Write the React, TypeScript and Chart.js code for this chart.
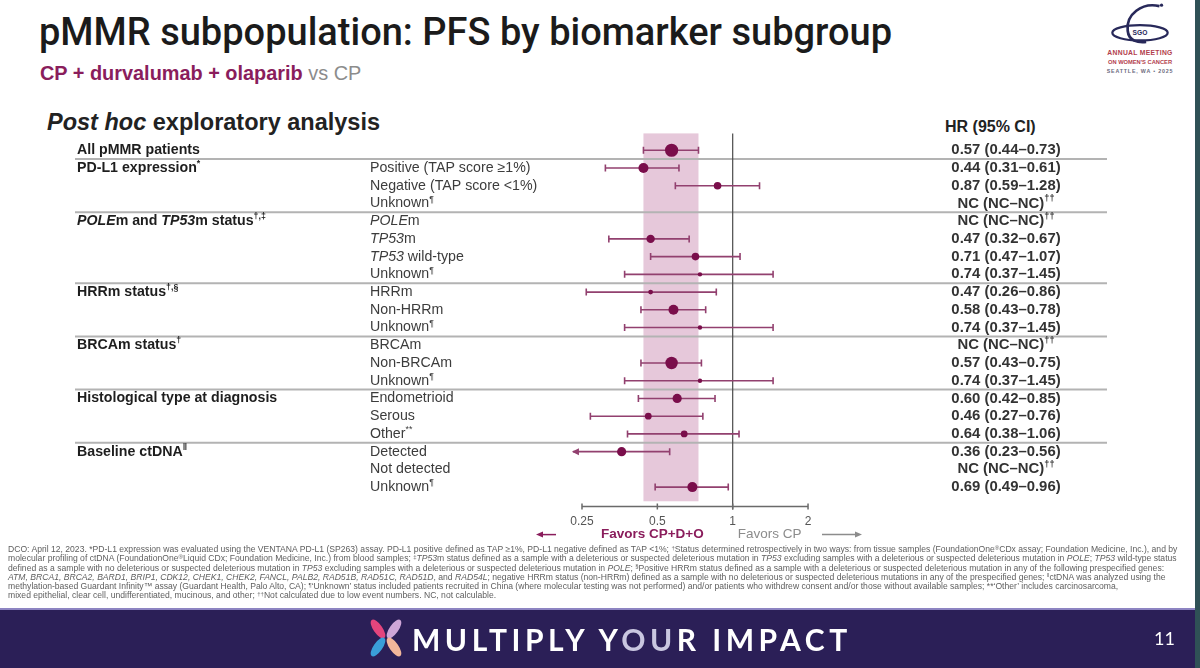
import React, { useEffect, useRef } from 'react';
import { Chart, registerables } from 'chart.js';

Chart.register(...registerables);

type Seg = { t: string; i?: boolean; s?: boolean };

// ---- data -------------------------------------------------------------
const groupLabels: (Seg[] | null)[] = [
  [{ t: 'All pMMR patients' }],
  [{ t: 'PD-L1 expression' }, { t: '*', s: true }],
  null,
  null,
  [{ t: 'POLE', i: true }, { t: 'm and ' }, { t: 'TP53', i: true }, { t: 'm status' }, { t: '†,‡', s: true }],
  null,
  null,
  null,
  [{ t: 'HRRm status' }, { t: '†,§', s: true }],
  null,
  null,
  [{ t: 'BRCAm status' }, { t: '†', s: true }],
  null,
  null,
  [{ t: 'Histological type at diagnosis' }],
  null,
  null,
  [{ t: 'Baseline ctDNA' }, { t: '‖', s: true }],
  null,
  null,
];

const subgroupLabels: Seg[][] = [
  [],
  [{ t: 'Positive (TAP score ≥1%)' }],
  [{ t: 'Negative (TAP score <1%)' }],
  [{ t: 'Unknown' }, { t: '¶', s: true }],
  [{ t: 'POLE', i: true }, { t: 'm' }],
  [{ t: 'TP53', i: true }, { t: 'm' }],
  [{ t: 'TP53', i: true }, { t: ' wild-type' }],
  [{ t: 'Unknown' }, { t: '¶', s: true }],
  [{ t: 'HRRm' }],
  [{ t: 'Non-HRRm' }],
  [{ t: 'Unknown' }, { t: '¶', s: true }],
  [{ t: 'BRCAm' }],
  [{ t: 'Non-BRCAm' }],
  [{ t: 'Unknown' }, { t: '¶', s: true }],
  [{ t: 'Endometrioid' }],
  [{ t: 'Serous' }],
  [{ t: 'Other' }, { t: '**', s: true }],
  [{ t: 'Detected' }],
  [{ t: 'Not detected' }],
  [{ t: 'Unknown' }, { t: '¶', s: true }],
];

const hazardRatio: (number | null)[] = [
  0.57, 0.44, 0.87, null, null, 0.47, 0.71, 0.74, 0.47, 0.58,
  0.74, null, 0.57, 0.74, 0.6, 0.46, 0.64, 0.36, null, 0.69,
];
const ciLower: (number | null)[] = [
  0.44, 0.31, 0.59, null, null, 0.32, 0.47, 0.37, 0.26, 0.43,
  0.37, null, 0.43, 0.37, 0.42, 0.27, 0.38, 0.23, null, 0.49,
];
const ciUpper: (number | null)[] = [
  0.73, 0.61, 1.28, null, null, 0.67, 1.07, 1.45, 0.86, 0.78,
  1.45, null, 0.75, 1.45, 0.85, 0.76, 1.06, 0.56, null, 0.96,
];

// rows after which a divider is drawn
const sectionEnds = [0, 3, 7, 10, 13, 16];

const tickValues = [0.25, 0.5, 1, 2];
const tickLabels = ['0.25', '0.5', '1', '2'];

// ---- styling ------------------------------------------------------------
const markerRadius = [6.6, 5, 3.8, 0, 0, 4.2, 3.8, 2.2, 2.4, 5, 2.2, 0, 6.2, 2.2, 4.6, 3.4, 3.4, 4.6, 0, 5];
const PLUM = '#7a0e4b';
const WHISKER = '#92406f';
const BAND = '#e6c8da';
const FONT = '"Liberation Sans", Arial, sans-serif';
const LABEL_SIZE = 14.2;

const fmt = (v: number) => v.toFixed(2);

function hrText(k: number): Seg[] {
  const h = hazardRatio[k];
  const lo = ciLower[k];
  const hi = ciUpper[k];
  if (h == null || lo == null || hi == null) return [{ t: 'NC (NC–NC)' }, { t: '††', s: true }];
  return [{ t: `${fmt(h)} (${fmt(lo)}–${fmt(hi)})` }];
}

function drawRich(
  ctx: CanvasRenderingContext2D,
  segs: Seg[],
  x: number,
  y: number,
  size: number,
  weight: number,
  color: string,
  align: 'left' | 'center'
) {
  const fontFor = (s: Seg) => `${s.i ? 'italic ' : ''}${weight} ${s.s ? size * 0.62 : size}px ${FONT}`;
  const widths = segs.map((s) => {
    ctx.font = fontFor(s);
    return ctx.measureText(s.t).width;
  });
  const total = widths.reduce((a, b) => a + b, 0);
  let cx = align === 'center' ? x - total / 2 : x;
  ctx.fillStyle = color;
  ctx.textAlign = 'left';
  ctx.textBaseline = 'middle';
  segs.forEach((s, k) => {
    ctx.font = fontFor(s);
    ctx.fillText(s.t, cx, s.s ? y - size * 0.3 : y);
    cx += widths[k];
  });
}

const forestPlugin = {
  id: 'forestDecor',
  beforeDatasetsDraw(chart: any) {
    const { ctx, chartArea } = chart;
    const xs = chart.scales.x;
    const ys = chart.scales.y;
    ctx.save();

    // shaded band: overall CI
    const bx0 = xs.getPixelForValue(ciLower[0] as number);
    const bx1 = xs.getPixelForValue(ciUpper[0] as number);
    const bandBottom = ys.getPixelForValue(19.8);
    ctx.fillStyle = BAND;
    ctx.fillRect(bx0, chartArea.top, bx1 - bx0, bandBottom - chartArea.top);

    // section dividers
    ctx.strokeStyle = '#b3b3b3';
    ctx.lineWidth = 2;
    sectionEnds.forEach((r) => {
      const y = ys.getPixelForValue(r + 0.5);
      ctx.beginPath();
      ctx.moveTo(75, y);
      ctx.lineTo(1107, y);
      ctx.stroke();
    });

    // line of no effect
    const x1 = xs.getPixelForValue(1);
    ctx.strokeStyle = '#4a4a4a';
    ctx.lineWidth = 1.2;
    ctx.beginPath();
    ctx.moveTo(x1, chartArea.top);
    ctx.lineTo(x1, chartArea.bottom + 3);
    ctx.stroke();

    // axis line with ticks
    const ax0 = xs.getPixelForValue(tickValues[0]);
    const ax1 = xs.getPixelForValue(tickValues[tickValues.length - 1]);
    const ay = chartArea.bottom;
    ctx.strokeStyle = '#6a6a6a';
    ctx.lineWidth = 1.5;
    ctx.beginPath();
    ctx.moveTo(ax0, ay);
    ctx.lineTo(ax1, ay);
    tickValues.forEach((v) => {
      const tx = xs.getPixelForValue(v);
      ctx.moveTo(tx, ay - 3);
      ctx.lineTo(tx, ay + 3);
    });
    ctx.stroke();

    // confidence intervals
    ctx.strokeStyle = WHISKER;
    ctx.fillStyle = WHISKER;
    ctx.lineWidth = 1.6;
    hazardRatio.forEach((h, k) => {
      const lo = ciLower[k];
      const hi = ciUpper[k];
      if (h == null || lo == null || hi == null) return;
      const y = ys.getPixelForValue(k);
      const xl = xs.getPixelForValue(lo);
      const xr = xs.getPixelForValue(hi);
      ctx.beginPath();
      ctx.moveTo(xl, y);
      ctx.lineTo(xr, y);
      ctx.moveTo(xr, y - 3.5);
      ctx.lineTo(xr, y + 3.5);
      if (lo >= tickValues[0]) {
        ctx.moveTo(xl, y - 3.5);
        ctx.lineTo(xl, y + 3.5);
      }
      ctx.stroke();
      if (lo < tickValues[0]) {
        ctx.beginPath();
        ctx.moveTo(xl - 1, y);
        ctx.lineTo(xl + 6, y - 3.5);
        ctx.lineTo(xl + 6, y + 3.5);
        ctx.closePath();
        ctx.fill();
      }
    });
    ctx.restore();
  },
  afterDatasetsDraw(chart: any) {
    const { ctx, chartArea } = chart;
    const xs = chart.scales.x;
    const ys = chart.scales.y;
    ctx.save();
    subgroupLabels.forEach((segs, k) => {
      const y = ys.getPixelForValue(k);
      const g = groupLabels[k];
      if (g) drawRich(ctx, g, 77, y, LABEL_SIZE, 700, '#1e1e1e', 'left');
      if (segs.length) drawRich(ctx, segs, 370, y, LABEL_SIZE, 400, '#3c3c3c', 'left');
      drawRich(ctx, hrText(k), 1006, y, 14.9, 700, '#333333', 'center');
    });

    // direction labels below the axis
    const x1 = xs.getPixelForValue(1);
    const fy = chartArea.bottom + 28;
    ctx.textBaseline = 'middle';
    ctx.font = `700 13.5px ${FONT}`;
    ctx.fillStyle = '#8a1d5c';
    ctx.textAlign = 'right';
    ctx.fillText('Favors CP+D+O', x1 - 29, fy);
    ctx.font = `400 13.5px ${FONT}`;
    ctx.fillStyle = '#8c8c8c';
    ctx.textAlign = 'left';
    ctx.fillText('Favors CP', x1 + 5, fy);

    // arrows
    ctx.lineWidth = 1.5;
    ctx.strokeStyle = '#8a1d5c';
    ctx.fillStyle = '#8a1d5c';
    ctx.beginPath();
    ctx.moveTo(541, fy);
    ctx.lineTo(556, fy);
    ctx.stroke();
    ctx.beginPath();
    ctx.moveTo(536, fy);
    ctx.lineTo(543, fy - 3);
    ctx.lineTo(543, fy + 3);
    ctx.closePath();
    ctx.fill();

    ctx.strokeStyle = '#8c8c8c';
    ctx.fillStyle = '#8c8c8c';
    ctx.beginPath();
    ctx.moveTo(822, fy);
    ctx.lineTo(856, fy);
    ctx.stroke();
    ctx.beginPath();
    ctx.moveTo(862, fy);
    ctx.lineTo(855, fy - 3);
    ctx.lineTo(855, fy + 3);
    ctx.closePath();
    ctx.fill();
    ctx.restore();
  },
};

function ForestChart() {
  const ref = useRef<HTMLCanvasElement | null>(null);
  useEffect(() => {
    if (!ref.current) return;
    const pts: { x: number; y: number }[] = [];
    const radii: number[] = [];
    hazardRatio.forEach((h, k) => {
      if (h == null) return;
      pts.push({ x: h, y: k });
      radii.push(markerRadius[k]);
    });
    const chart = new Chart(ref.current, {
      type: 'scatter',
      data: {
        datasets: [
          {
            data: pts,
            pointRadius: radii,
            pointBackgroundColor: PLUM,
            pointBorderColor: PLUM,
            pointBorderWidth: 0,
          },
        ],
      },
      options: {
        responsive: false,
        animation: false,
        events: [],
        layout: { padding: { left: 568.1, right: 381.6, top: 133.4, bottom: 131 } },
        plugins: { legend: { display: false }, tooltip: { enabled: false } },
        scales: {
          x: {
            type: 'logarithmic',
            min: 0.22,
            max: 2.2,
            grid: { display: false, drawTicks: false },
            border: { display: false },
            afterBuildTicks: (s: any) => {
              s.ticks = tickValues.map((v) => ({ value: v }));
            },
            ticks: {
              autoSkip: false,
              maxRotation: 0,
              padding: 8,
              color: '#555555',
              font: { family: FONT, size: 12 },
              callback: (_v: any, i: number) => tickLabels[i],
            },
          },
          y: { type: 'linear', min: -0.95, max: 20.1, reverse: true, display: false },
        },
      },
      plugins: [forestPlugin],
    } as any);
    return () => chart.destroy();
  }, []);
  return <canvas ref={ref} width={1200} height={668} style={{ position: 'absolute', left: 0, top: 0 }} />;
}

function SgoLogo() {
  return (
    <svg width={104} height={82} viewBox="0 0 100 80" style={{ position: 'absolute', left: 1088, top: 0 }}>
      <path d="M69 6 C 52 2, 36 14, 38 30 C 39 40, 48 42, 56 41" fill="none" stroke="#28295a" strokeWidth={2.6} />
      <ellipse cx={50} cy={32} rx={27} ry={7.5} fill="none" stroke="#28295a" strokeWidth={2.2} />
      <circle cx={71} cy={5} r={1.6} fill="#28295a" />
      <text x={50} y={34.5} fontSize={6.5} textAnchor="middle" fill="#28295a" fontFamily={FONT} fontWeight={700}>SGO</text>
      <text x={50} y={54} fontSize={6.6} textAnchor="middle" fill="#b2404c" fontFamily={FONT} fontWeight={700} letterSpacing={0.3}>ANNUAL MEETING</text>
      <text x={50} y={62} fontSize={5.6} textAnchor="middle" fill="#b2404c" fontFamily={FONT} fontWeight={700}>ON WOMEN'S CANCER</text>
      <text x={50} y={71} fontSize={5.2} textAnchor="middle" fill="#6b6b7e" fontFamily={FONT} fontWeight={700} letterSpacing={0.8}>SEATTLE, WA • 2025</text>
    </svg>
  );
}

function PetalMark() {
  return (
    <svg width={40} height={40} viewBox="0 0 40 40" style={{ position: 'absolute', left: 366, top: 618 }}>
      <ellipse cx={12} cy={11} rx={4.5} ry={11} transform="rotate(-35 12 11)" fill="#e4457d" />
      <ellipse cx={28} cy={11} rx={4.5} ry={11} transform="rotate(35 28 11)" fill="#cfa6d8" />
      <ellipse cx={12} cy={29} rx={4.5} ry={11} transform="rotate(35 12 29)" fill="#3a9ed8" />
      <ellipse cx={28} cy={29} rx={4.5} ry={11} transform="rotate(-35 28 29)" fill="#f2b79b" />
    </svg>
  );
}

function Sup({ children }: { children: React.ReactNode }) {
  return (
    <span style={{ fontSize: '0.7em', position: 'relative', top: '-0.4em', lineHeight: 0 }}>{children}</span>
  );
}

const noteStyle: React.CSSProperties = {
  position: 'absolute',
  left: 8,
  top: 545,
  width: 1185,
  fontFamily: FONT,
  fontSize: 8.6,
  lineHeight: '9.3px',
  color: '#5e5e5e',
  whiteSpace: 'nowrap',
};

export default function App() {
  return (
    <div
      style={{
        position: 'absolute',
        left: 0,
        top: 0,
        width: 1200,
        height: 668,
        background: '#ffffff',
        overflow: 'hidden',
        fontFamily: FONT,
      }}
    >
      <div
        style={{
          position: 'absolute',
          left: 39,
          top: 12,
          fontFamily: 'Roboto, "Liberation Sans", sans-serif',
          fontWeight: 500,
          fontSize: 38,
          lineHeight: '40px',
          color: '#1b1b1b',
          whiteSpace: 'nowrap',
        }}
      >
        pMMR subpopulation: PFS by biomarker subgroup
      </div>
      <div
        style={{
          position: 'absolute',
          left: 40,
          top: 62,
          fontSize: 19.9,
          lineHeight: '22px',
          whiteSpace: 'nowrap',
        }}
      >
        <span style={{ color: '#8a1d5c', fontWeight: 700 }}>CP + durvalumab + olaparib</span>
        <span style={{ color: '#8c8c8c' }}> vs CP</span>
      </div>
      <div
        style={{
          position: 'absolute',
          left: 47,
          top: 109,
          fontSize: 23.5,
          lineHeight: '27px',
          fontWeight: 700,
          color: '#222222',
          whiteSpace: 'nowrap',
        }}
      >
        <i>Post hoc</i> exploratory analysis
      </div>
      <div
        style={{
          position: 'absolute',
          left: 945,
          top: 118,
          fontSize: 16,
          lineHeight: '18px',
          fontWeight: 700,
          color: '#222222',
          whiteSpace: 'nowrap',
        }}
      >
        HR (95% CI)
      </div>
      <SgoLogo />
      <ForestChart />
      <div style={noteStyle}>
        DCO: April 12, 2023. *PD-L1 expression was evaluated using the VENTANA PD-L1 (SP263) assay. PD-L1 positive defined as TAP ≥1%, PD-L1 negative defined as TAP &lt;1%; <Sup>†</Sup>Status determined retrospectively in two ways: from tissue samples (FoundationOne<Sup>®</Sup>CDx assay; Foundation Medicine, Inc.), and by
        <br />
        molecular profiling of ctDNA (FoundationOne<Sup>®</Sup>Liquid CDx; Foundation Medicine, Inc.) from blood samples; <Sup>‡</Sup><i>TP53</i>m status defined as a sample with a deleterious or suspected deleterious mutation in <i>TP53</i> excluding samples with a deleterious or suspected deleterious mutation in <i>POLE</i>; <i>TP53</i> wild-type status
        <br />
        defined as a sample with no deleterious or suspected deleterious mutation in <i>TP53</i> excluding samples with a deleterious or suspected deleterious mutation in <i>POLE</i>; <Sup>§</Sup>Positive HRRm status defined as a sample with a deleterious or suspected deleterious mutation in any of the following prespecified genes:
        <br />
        <i>ATM, BRCA1, BRCA2, BARD1, BRIP1, CDK12, CHEK1, CHEK2, FANCL, PALB2, RAD51B, RAD51C, RAD51D</i>, and <i>RAD54L</i>; negative HRRm status (non-HRRm) defined as a sample with no deleterious or suspected deleterious mutations in any of the prespecified genes; <Sup>‖</Sup>ctDNA was analyzed using the
        <br />
        methylation-based Guardant Infinity™ assay (Guardant Health, Palo Alto, CA); <Sup>¶</Sup>‘Unknown’ status included patients recruited in China (where molecular testing was not performed) and/or patients who withdrew consent and/or those without available samples; **‘Other’ includes carcinosarcoma,
        <br />
        mixed epithelial, clear cell, undifferentiated, mucinous, and other; <Sup>††</Sup>Not calculated due to low event numbers. NC, not calculable.
      </div>
      <div
        style={{
          position: 'absolute',
          left: 0,
          top: 608,
          width: 1200,
          height: 60,
          background: '#2b1f57',
          borderTop: '2px solid #8d84c2',
        }}
      >
        <div
          style={{
            position: 'absolute',
            left: 412,
            top: 12,
            fontFamily: 'Lato, "Open Sans", sans-serif',
            fontWeight: 700,
            fontSize: 30,
            lineHeight: '34px',
            letterSpacing: 4.5,
            color: '#ffffff',
            whiteSpace: 'nowrap',
          }}
        >
          MULTIPLY Y<span style={{ color: '#c9c6e0' }}>OU</span>R IMPACT
        </div>
        <div
          style={{
            position: 'absolute',
            left: 1154,
            top: 17,
            fontFamily: 'Lato, sans-serif',
            fontSize: 18,
            lineHeight: '22px',
            color: '#ffffff',
          }}
        >
          11
        </div>
      </div>
      <PetalMark />
      <div style={{ position: 'absolute', left: 1195, top: 0, width: 5, height: 668, background: '#2f5156' }} />
    </div>
  );
}
